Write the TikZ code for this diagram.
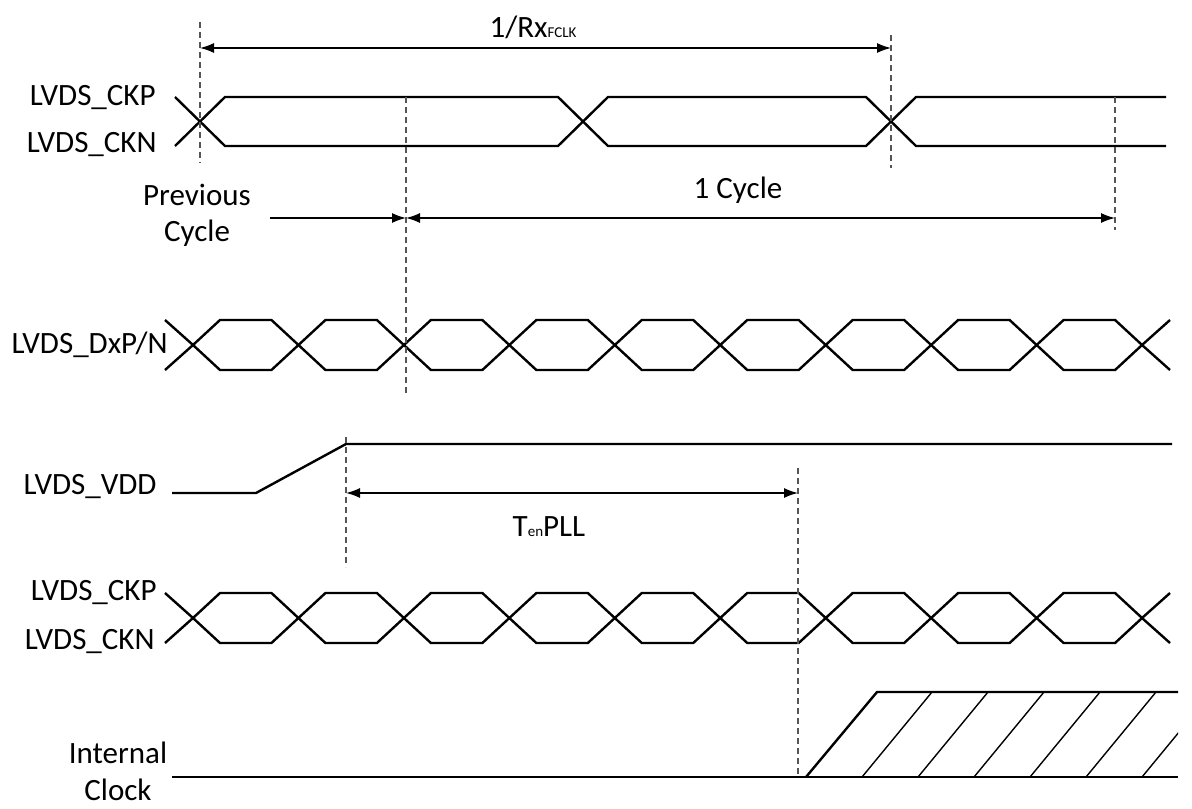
\documentclass[tikz,border=0pt]{standalone}
\usepackage{fontspec}
\setmainfont{Carlito}
\usepackage{xcolor}
\usepackage{tikz}
\usetikzlibrary{positioning, arrows.meta}
\definecolor{grisrepere}{RGB}{85, 85, 85}

\begin{document}
\begin{tikzpicture}[x=0.5pt, y=-0.5pt, font=\fontsize{15.5}{18}\selectfont,
    signal/.style={line width=1.2pt, line join=miter},
    hachure/.style={line width=0.7pt},
    repere/.style={draw=grisrepere, line width=0.6pt, dash pattern=on 3pt off 2pt},
    cote/.style={line width=0.7pt, {Latex[length=7pt,width=5pt]}-{Latex[length=7pt,width=5pt]}},
    fleche/.style={line width=0.7pt, -{Latex[length=7pt,width=5pt]}},
    etiq/.style={anchor=mid east, inner sep=0pt}]
    \useasboundingbox (0,0) rectangle (1192,808);

    % noms des signaux
    \node[etiq] (ckpa) at (156,101) {LVDS\_CKP};
    \node[etiq] (ckna) at (157,148) {LVDS\_CKN};
    \node[etiq] (dxpn) at (168,349) {LVDS\_DxP/N};
    \node[etiq] (vdd) at (157,490) {LVDS\_VDD};
    \node[etiq] (ckpb) at (157,596) {LVDS\_CKP};
    \node[etiq] (cknb) at (155,645) {LVDS\_CKN};
    \node[align=center, inner sep=0pt, font=\fontsize{15.5}{18.5}\selectfont] (horloge) at (118,771) {Internal\\Clock};

    % horloge du haut
    \draw[signal] (175,97) -- (200,121.5) -- (175,146);
    \draw[signal] (200,121.5) -- (225,97) -- (558,97) -- (583,121.5) -- (558,146) -- (225,146) -- cycle;
    \draw[signal] (583,121.5) -- (608,97) -- (866,97) -- (891,121.5) -- (866,146) -- (608,146) -- cycle;
    \draw[signal] (1166,97) -- (916,97) -- (891,121.5) -- (916,146) -- (1166,146);

    % donnees et horloge du bas
    \foreach \ym in {345,618} {
      \draw[signal] (165,\ym-25) -- (193,\ym) -- (165,\ym+25);
      \draw[signal] (1170,\ym-25) -- (1142,\ym) -- (1170,\ym+25);
      \foreach \k in {0,...,8} {
        \pgfmathsetmacro\ca{193+105.45*\k}
        \pgfmathsetmacro\cb{193+105.45*(\k+1)}
        \draw[signal] (\ca,\ym) -- (\ca+27,\ym-25) -- (\cb-27,\ym-25) -- (\cb,\ym) -- (\cb-27,\ym+25) -- (\ca+27,\ym+25) -- cycle;
      }
    }

    % alimentation
    \draw[signal] (172,493) -- (256,493) -- (346,444) -- (1172,444);

    % horloge interne
    \draw[signal] (172,777) -- (1178,777);
    \draw[signal] (806,777) -- (877,692) -- (1178,692);
    \begin{scope}
      \clip (806,690) rectangle (1178,780);
      \foreach \k in {1,...,6}
        \draw[hachure] (806+56*\k,777) -- (876+56*\k,692);
    \end{scope}

    % reperes
    \draw[repere] (200,22) -- (200,163);
    \draw[repere] (891,35) -- (891,168);
    \draw[repere] (406,97) -- (406,395);
    \draw[repere] (1115,97) -- (1115,230);
    \draw[repere] (346,437) -- (346,567);
    \draw[repere] (798,468) -- (798,777);

    % cotes
    \coordinate (rxa) at (200,48);
    \coordinate (rxb) at (891,48);
    \coordinate (preva) at (270,218);
    \coordinate (prevb) at (406,218);
    \coordinate (cyclb) at (1115,218);
    \coordinate (plla) at (346,493);
    \coordinate (pllb) at (798,493);
    \draw[cote] (rxa) -- (rxb);
    \draw[fleche] (preva) -- (prevb);
    \draw[cote] (prevb) -- (cyclb);
    \draw[cote] (plla) -- (pllb);

    \node (rx) at (533,27) {1/Rx{\fontsize{7.5}{8}\selectfont FCLK}};
    \node[align=center, font=\fontsize{15.5}{18}\selectfont] (prec) at (197,215) {Previous\\Cycle};
    \node (cycle) at (738,190) {1 Cycle};
    \node (tpll) at (549,527) {T{\fontsize{7.5}{8}\selectfont en}PLL};
  \end{tikzpicture}
\end{document}
